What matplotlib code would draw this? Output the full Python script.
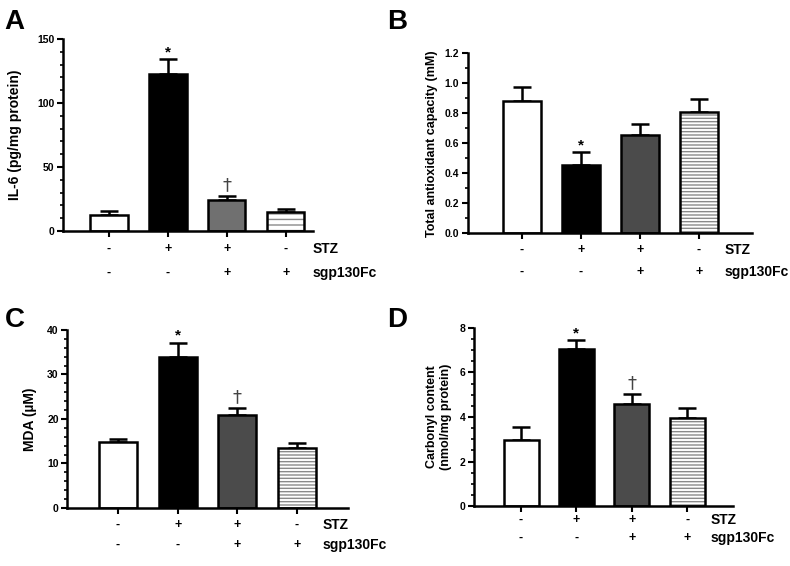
import matplotlib.pyplot as plt
from matplotlib.transforms import blended_transform_factory
from matplotlib.ticker import MultipleLocator

plt.rcParams['font.family'] = ['Liberation Sans', 'DejaVu Sans']
plt.rcParams['font.weight'] = 'bold'
plt.rcParams['hatch.linewidth'] = 1.0

stz = ['-', '+', '+', '-']
sgp = ['-', '-', '+', '+']

il6 = [12.5, 122.6, 24.3, 14.9]
il6_err = [3.4, 11.7, 3.1, 2.3]
tac = [0.884, 0.456, 0.653, 0.809]
tac_err = [0.094, 0.084, 0.074, 0.084]
mda = [14.8, 34.0, 20.9, 13.5]
mda_err = [0.8, 3.1, 1.5, 1.1]
carb = [2.98, 7.04, 4.57, 3.96]
carb_err = [0.57, 0.41, 0.48, 0.43]

marks_a = ['', '*', '†', '']
marks_b = ['', '*', '', '']
marks_c = ['', '*', '†', '']
marks_d = ['', '*', '†', '']

fig = plt.figure(figsize=(7.9, 5.66), dpi=100)


def panel(rect, vals, errs, marks, ylim, major, minor, ylabel, ylab_x,
          xlim, width, gray, hatch, rows_y, label_x, letter, letter_xy, lsize=10):
    ax = fig.add_axes(rect)
    x = list(range(len(vals)))
    faces = ['white', 'black', gray, 'white']
    for i in x:
        ax.errorbar(i, vals[i], yerr=[[0], [errs[i]]], color='black', lw=1.8,
                    capsize=6.5, capthick=1.8, zorder=1)
        if i == 3:
            ax.bar(i, vals[i], width, color='white', edgecolor='#8a8a8a',
                   hatch=hatch, linewidth=0, zorder=2)
            ax.bar(i, vals[i], width, facecolor='none', edgecolor='black',
                   linewidth=1.8, zorder=3)
        else:
            ax.bar(i, vals[i], width, color=faces[i], edgecolor='black',
                   linewidth=1.8, zorder=2)
        if marks[i]:
            if marks[i] == '*':
                ax.text(i, vals[i] + errs[i], '*', ha='center', va='bottom',
                        fontsize=11, fontweight='bold')
            else:
                ax.text(i, vals[i] + errs[i] + (ylim[1] * 0.01), '†', ha='center',
                        va='bottom', fontsize=13, fontweight='normal',
                        color='#444444', family='DejaVu Sans')
    ax.set_xlim(*xlim)
    ax.set_ylim(*ylim)
    ax.yaxis.set_major_locator(MultipleLocator(major))
    ax.yaxis.set_minor_locator(MultipleLocator(minor))
    ax.set_xticks(x)
    ax.set_xticklabels([])
    ax.tick_params(axis='both', which='major', length=4, width=1.5,
                   labelsize=7.5, pad=2)
    ax.tick_params(axis='y', which='minor', length=2, width=1.2)
    for s in ['top', 'right']:
        ax.spines[s].set_visible(False)
    for s in ['left', 'bottom']:
        ax.spines[s].set_linewidth(1.8)
    for t in ax.get_yticklabels():
        t.set_fontweight('bold')
    ax.set_ylabel(ylabel, fontsize=lsize, fontweight='bold')
    ax.yaxis.set_label_coords(ylab_x, 0.5)
    tr = blended_transform_factory(ax.transData, ax.transAxes)
    for i in x:
        ax.text(i, rows_y[0], stz[i], transform=tr, ha='center', va='center',
                fontsize=9, fontweight='bold')
        ax.text(i, rows_y[1], sgp[i], transform=tr, ha='center', va='center',
                fontsize=9, fontweight='bold')
    ax.text(label_x, rows_y[0], 'STZ', transform=tr, ha='left', va='center',
            fontsize=10, fontweight='bold', clip_on=False)
    ax.text(label_x, rows_y[1], 'sgp130Fc', transform=tr, ha='left', va='center',
            fontsize=10, fontweight='bold', clip_on=False)
    fig.text(letter_xy[0], letter_xy[1], letter, fontsize=20, fontweight='bold',
             ha='left', va='center')
    return ax


panel([0.0797, 0.592, 0.3165, 0.339], il6, il6_err, marks_a, (0, 150), 50, 10,
      'IL-6 (pg/mg protein)', -0.164, (-0.78, 3.46), 0.63, '#707070', '---',
      (-0.094, -0.219), 3.46, 'A', (4 / 790, 1 - 22 / 566))

panel([0.592, 0.588, 0.36, 0.318], tac, tac_err, marks_b, (0, 1.2), 0.2, 0.1,
      'Total antioxidant capacity (mM)', -0.106, (-0.915, 3.9), 0.65, '#4b4b4b',
      '-----', (-0.094, -0.217), 3.44, 'B', (387 / 790, 1 - 22 / 566), lsize=9)

panel([0.0848, 0.1025, 0.3557, 0.3145], mda, mda_err, marks_c, (0, 40), 10, 2,
      'MDA (µM)', -0.107, (-0.854, 3.854), 0.64, '#4b4b4b', '-----',
      (-0.096, -0.208), 3.42, 'C', (5 / 790, 1 - 320 / 566))

panel([0.6, 0.106, 0.328, 0.3145], carb, carb_err, marks_d, (0, 8), 2, 0.5,
      'Carbonyl content\n(nmol/mg protein)', -0.085, (-0.85, 3.83), 0.63,
      '#4b4b4b', '-----', (-0.079, -0.18), 3.42, 'D', (387 / 790, 1 - 320 / 566),
      lsize=9)

fig.savefig('out.png', dpi=100)
